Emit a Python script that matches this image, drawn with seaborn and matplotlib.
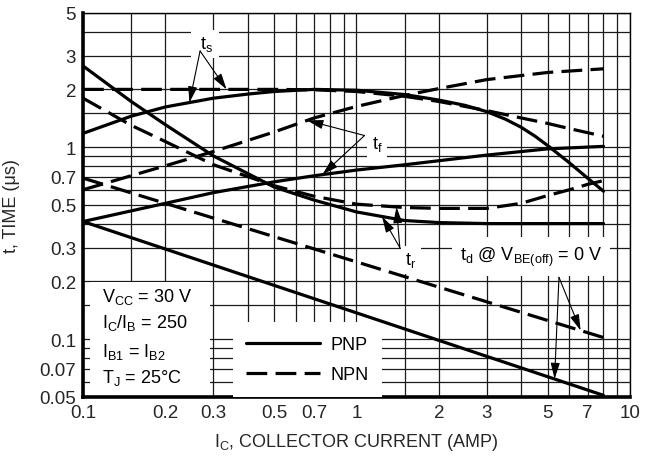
import numpy as np
import matplotlib
matplotlib.use('Agg')
import matplotlib.pyplot as plt
import seaborn as sns
from matplotlib.lines import Line2D
from matplotlib.patches import Rectangle

# switching times vs collector current
# I_C in amps, t in microseconds
ic_ts_pnp = [0.1, 0.15, 0.2, 0.3, 0.4, 0.5, 0.7, 1.0, 1.5, 2, 2.5, 3, 3.5, 4, 4.5, 5, 6, 7, 8]
t_ts_pnp = [1.18, 1.45, 1.62, 1.8, 1.89, 1.95, 2.0, 1.98, 1.88, 1.76, 1.65, 1.53, 1.40, 1.27,
            1.14, 1.02, 0.83, 0.69, 0.59]

ic_ts_npn = [0.1, 0.2, 0.3, 0.5, 0.7, 1.0, 1.5, 2, 3, 4, 5, 6, 7, 8]
t_ts_npn = [2.0, 2.0, 2.0, 2.0, 1.99, 1.95, 1.84, 1.73, 1.55, 1.42, 1.33, 1.25, 1.19, 1.14]

ic_tf_npn = [0.1, 0.15, 0.2, 0.3, 0.5, 0.7, 1.0, 1.5, 2, 3, 5, 8]
t_tf_npn = [0.6, 0.71, 0.8, 0.95, 1.2, 1.42, 1.63, 1.86, 2.02, 2.25, 2.45, 2.56]

ic_tf_pnp = [0.1, 0.2, 0.3, 0.5, 0.7, 1.0, 1.5, 2, 3, 5, 8]
t_tf_pnp = [0.41, 0.51, 0.58, 0.66, 0.71, 0.76, 0.81, 0.85, 0.91, 0.98, 1.01]

ic_tr_pnp = [0.1, 0.15, 0.2, 0.3, 0.5, 0.7, 1.0, 1.5, 2, 3, 5, 8]
t_tr_pnp = [2.65, 1.73, 1.31, 0.9, 0.62, 0.53, 0.46, 0.415, 0.405, 0.40, 0.40, 0.40]

ic_tr_npn = [0.1, 0.15, 0.2, 0.3, 0.5, 0.7, 1.0, 1.5, 2, 3, 4, 5, 6, 7, 8]
t_tr_npn = [1.8, 1.3, 1.07, 0.81, 0.63, 0.555, 0.505, 0.485, 0.48, 0.48, 0.51, 0.56, 0.6, 0.64, 0.67]

ic_td = [0.1, 8]
t_td_pnp = [0.41, 0.051]
t_td_npn = [0.69, 0.102]

x_major = [0.1, 0.2, 0.3, 0.5, 0.7, 1, 2, 3, 5, 7, 10]
x_labels = ['0.1', '0.2', '0.3', '0.5', '0.7', '1', '2', '3', '5', '7', '10']
x_minor = [0.15, 0.4, 0.6, 0.8, 0.9, 1.5, 4, 6, 8, 9]
y_major = [0.05, 0.07, 0.1, 0.2, 0.3, 0.5, 0.7, 1, 2, 3, 5]
y_labels = ['0.05', '0.07', '0.1', '0.2', '0.3', '0.5', '0.7', '1', '2', '3', '5']
y_minor = [0.06, 0.08, 0.09, 0.15, 0.4, 0.6, 0.8, 0.9, 1.5, 4]

conditions = ['V$_{\\mathrm{CC}}$ = 30 V',
              'I$_{\\mathrm{C}}$/I$_{\\mathrm{B}}$ = 250',
              'I$_{\\mathrm{B1}}$ = I$_{\\mathrm{B2}}$',
              'T$_{\\mathrm{J}}$ = 25°C']

FS = 13


def on_curve(xs, ys, x):
    # log-log interpolation, used to land the arrow tips on a curve
    return 10 ** np.interp(np.log10(x), np.log10(xs), np.log10(ys))


sns.set_style('white')
plt.rcParams['font.family'] = ['Liberation Sans', 'DejaVu Sans']
plt.rcParams['mathtext.fontset'] = 'custom'
plt.rcParams['mathtext.rm'] = 'Liberation Sans'
plt.rcParams['mathtext.it'] = 'Liberation Sans'
plt.rcParams['text.color'] = 'black'

fig = plt.figure(figsize=(6.5, 4.6), dpi=100)
ax = fig.add_axes([0.1277, 0.1348, 0.8415, 0.8348])

dash = (0, (6.5, 2.6))
curves = [
    (ic_ts_pnp, t_ts_pnp, '-'),
    (ic_ts_npn, t_ts_npn, dash),
    (ic_tf_pnp, t_tf_pnp, '-'),
    (ic_tf_npn, t_tf_npn, dash),
    (ic_tr_pnp, t_tr_pnp, '-'),
    (ic_tr_npn, t_tr_npn, dash),
    (ic_td, t_td_pnp, '-'),
    (ic_td, t_td_npn, dash),
]
for xs, ys, ls in curves:
    sns.lineplot(x=xs, y=ys, ax=ax, color='black', lw=2.3, linestyle=ls, zorder=4)

ax.set_xscale('log')
ax.set_yscale('log')
ax.set_xlim(0.1, 10)
ax.set_ylim(0.05, 5)
ax.set_xticks(x_major)
ax.set_xticklabels(x_labels)
ax.set_xticks(x_minor, minor=True)
ax.set_yticks(y_major)
ax.set_yticklabels(y_labels)
ax.set_yticks(y_minor, minor=True)
ax.xaxis.set_minor_formatter(plt.NullFormatter())
ax.yaxis.set_minor_formatter(plt.NullFormatter())
ax.tick_params(which='both', direction='in', length=6.5, width=0.9, color='black',
               top=False, right=False, labelsize=13.5, pad=5)
ax.set_axisbelow(True)
ax.grid(which='both', color='#1a1a1a', lw=0.9)
for side in ['left', 'bottom']:
    ax.spines[side].set_linewidth(2.6)
for side in ['top', 'right']:
    ax.spines[side].set_linewidth(1.0)
for sp in ax.spines.values():
    sp.set_color('black')

ax.set_xlabel('I$_{\\mathrm{C}}$, COLLECTOR CURRENT (AMP)', fontsize=FS)
ax.set_ylabel('t, TIME (μs)', fontsize=FS)
ax.xaxis.set_label_coords(0.5, -0.088)
ax.yaxis.set_label_coords(-0.115, 0.5)

# white block behind the test conditions
ax.add_patch(Rectangle((0.013, 0), 0.219, 0.30, transform=ax.transAxes,
                       facecolor='white', edgecolor='none', zorder=1.5))
for txt, yy in zip(conditions, [0.25, 0.182, 0.108, 0.039]):
    ax.text(0.035, yy, txt, transform=ax.transAxes, fontsize=FS, va='baseline', zorder=3)

handles = [Line2D([], [], color='black', lw=2.3, linestyle='-'),
           Line2D([], [], color='black', lw=2.3, linestyle=dash)]
leg = ax.legend(handles, ['PNP', 'NPN'], loc='lower left', bbox_to_anchor=(0.274, 0.0),
                borderaxespad=0, frameon=True, fancybox=False, facecolor='white',
                edgecolor='none', framealpha=1, fontsize=FS, handlelength=4.1,
                handletextpad=0.55, labelspacing=0.75, borderpad=0.75)
leg.set_zorder(3)

box = dict(facecolor='white', edgecolor='none', boxstyle='square,pad=0.25')
arrow = dict(arrowstyle='-|>,head_length=0.7,head_width=0.2', color='black', lw=0.8,
             shrinkA=0, shrinkB=0, mutation_scale=14)

ax.text(0.279, 3.45, ' t$_{\\mathrm{s}}$ ', fontsize=FS, ha='center', va='center', bbox=box, zorder=3)
for xt, xs, ys in [(0.245, ic_ts_pnp, t_ts_pnp), (0.335, ic_ts_npn, t_ts_npn)]:
    ax.annotate('', xy=(xt, on_curve(xs, ys, xt)), xytext=(0.268, 3.17), arrowprops=arrow)

ax.text(1.19, 1.04, 't$_{\\mathrm{f}}$', fontsize=FS, ha='center', va='center', bbox=box, zorder=3)
for xt, xs, ys in [(0.66, ic_tf_npn, t_tf_npn), (0.75, ic_tf_pnp, t_tf_pnp)]:
    ax.annotate('', xy=(xt, on_curve(xs, ys, xt)), xytext=(1.07, 1.15), arrowprops=arrow)

ax.text(1.58, 0.26, 't$_{\\mathrm{r}}$', fontsize=FS, ha='center', va='center', bbox=box, zorder=3)
for xt, xs, ys in [(1.24, ic_tr_pnp, t_tr_pnp), (1.40, ic_tr_npn, t_tr_npn)]:
    ax.annotate('', xy=(xt, on_curve(xs, ys, xt)), xytext=(1.44, 0.30), arrowprops=arrow)

ax.text(4.34, 0.27, 't$_{\\mathrm{d}}$ @ V$_{\\mathrm{BE(off)}}$ = 0 V', fontsize=FS,
        ha='center', va='center', bbox=dict(facecolor='white', edgecolor='none',
                                            boxstyle='square,pad=0.45'), zorder=3)
for xt, xs, ys in [(5.3, ic_td, t_td_pnp), (6.6, ic_td, t_td_npn)]:
    ax.annotate('', xy=(xt, on_curve(xs, ys, xt)), xytext=(5.5, 0.21), arrowprops=arrow)

fig.savefig('out.png', dpi=100, facecolor='white')
